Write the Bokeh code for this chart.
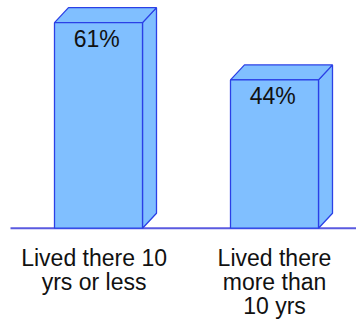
from bokeh.plotting import figure
from bokeh.models import Range1d, ColumnDataSource
from bokeh.core.properties import value
from bokeh.embed import file_html
from bokeh.resources import INLINE

categories = ["Lived there 10\nyrs or less", "Lived there\nmore than\n10 yrs"]
values = [61, 44]
value_labels = ["61%", "44%"]

W, H = 356, 325
px_per_cat = 176.0
px_per_unit = 3.37
x0 = -98.0 / px_per_cat
y_zero_px = 227.7
p = figure(width=W, height=H, output_backend="svg", toolbar_location=None,
           x_range=Range1d(x0, x0 + W / px_per_cat),
           y_range=Range1d(-(H - y_zero_px) / px_per_unit, y_zero_px / px_per_unit),
           min_border=0, outline_line_color=None)
p.axis.visible = False
p.grid.visible = False
p.background_fill_color = "white"
p.border_fill_color = "white"

xs = list(range(len(values)))
bw = 0.5
dx = 14.0 / px_per_cat
dy = 15.0 / px_per_unit
fill = "#80BFFF"
edge = "#2B40E6"

# baseline
p.segment(x0=[-0.5], y0=[0], x1=[x0 + W / px_per_cat], y1=[0], line_color="#5a5ae0", line_width=2)

top_x, top_y, side_x, side_y = [], [], [], []
for x, v in zip(xs, values):
    l, r = x - bw / 2, x + bw / 2
    top_x.append([l, l + dx, r + dx, r])
    top_y.append([v, v + dy, v + dy, v])
    side_x.append([r, r + dx, r + dx, r])
    side_y.append([0, dy, v + dy, v])

p.patches(side_x, side_y, fill_color=fill, line_color=edge, line_width=1.3)
p.patches(top_x, top_y, fill_color=fill, line_color=edge, line_width=1.3)
p.vbar(x=xs, top=values, bottom=0, width=bw, fill_color=fill, line_color=edge, line_width=1.3)

p.text(x=[x - 0.01 for x in xs], y=values, text=value_labels, text_align="center", text_baseline="alphabetic",
       y_offset=16, text_font=value("Liberation Sans"), text_font_size="23px", text_color="#111111")

lx, ly, lt, lo = [], [], [], []
for x, c in zip(xs, categories):
    for i, line in enumerate(c.split("\n")):
        lx.append(x - 0.025 if x == 0 else x)
        ly.append(0)
        lt.append(line)
        lo.append(30 + i * 24)
src = ColumnDataSource(dict(x=lx, y=ly, t=lt, o=lo))
p.text(x="x", y="y", text="t", y_offset="o", source=src, text_align="center", text_baseline="alphabetic",
       text_font=value("Liberation Sans"), text_font_size="23px", text_color="#111111")

open("out.html", "w").write(file_html(p, INLINE))
